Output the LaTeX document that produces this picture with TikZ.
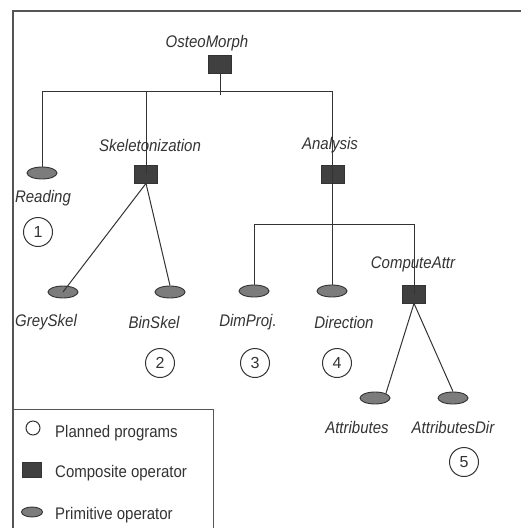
\documentclass[tikz,border=0pt]{standalone}
\usepackage{fontspec}
\setmainfont{Liberation Sans}
\usetikzlibrary{shapes.geometric}

\definecolor{boxgray}{HTML}{404040}
\definecolor{ellgray}{HTML}{7C7C7C}
\definecolor{inkgray}{HTML}{333333}
\definecolor{framegray}{HTML}{555555}

\tikzset{
  composite/.style={rectangle, draw=inkgray, fill=boxgray, line width=0.8pt,
    minimum width=23pt, minimum height=18pt, inner sep=0pt},
  primitive/.style={ellipse, draw=inkgray, fill=ellgray, line width=0.9pt,
    minimum width=30pt, minimum height=12pt, inner sep=0pt},
  opname/.style={font=\fontsize{15}{18}\selectfont\itshape, text=inkgray, inner sep=0pt,
    yscale=1.12, transform shape},
  planned/.style={circle, draw=inkgray, line width=1pt, minimum size=29pt, inner sep=0pt,
    font=\fontsize{16}{18}\selectfont, text=inkgray},
  legendtext/.style={font=\fontsize{15}{18}\selectfont, text=inkgray, anchor=west, inner sep=0pt,
    yscale=1.12, transform shape},
  link/.style={draw=inkgray, line width=1pt},
  frame/.style={draw=framegray, line width=1.5pt}
}

\begin{document}
\begin{tikzpicture}[x=1pt, y=-1pt]
  \useasboundingbox (0,0) rectangle (521,528);

  % outer frame and legend box
  \draw[frame] (13,528) -- (13,11) -- (521,11);
  \draw[frame, line width=1pt] (13,528) |- (213,409) -- (213,528);

  % operators
  \node[composite] (osteo)    at (220,64)  {};
  \node[composite] (skel)     at (146,174) {};
  \node[composite] (analysis) at (333,174) {};
  \node[composite] (compattr) at (414,294) {};

  \node[primitive] (reading)  at (42,173)  {};
  \node[primitive] (greyskel) at (63,292)  {};
  \node[primitive] (binskel)  at (170,292) {};
  \node[primitive] (dimproj)  at (254,291) {};
  \node[primitive] (direction) at (332,291) {};
  \node[primitive] (attributes) at (375,398) {};
  \node[primitive] (attrdir)  at (453,398) {};

  % names
  \node[opname] (osteolbl)    at (207,43)  {OsteoMorph};
  \node[opname] (skellbl)     at (150,145) {Skeletonization};
  \node[opname] (analysislbl) at (330,145) {Analysis};
  \node[opname] (compattrlbl) at (413,264) {ComputeAttr};
  \node[opname] (readinglbl)  at (43,198)  {Reading};
  \node[opname] (greyskellbl) at (46,322)  {GreySkel};
  \node[opname] (binskellbl)  at (154,322) {BinSkel};
  \node[opname] (dimprojlbl)  at (248,322) {DimProj.};
  \node[opname] (directionlbl) at (344,322) {Direction};
  \node[opname] (attributeslbl) at (357,427) {Attributes};
  \node[opname] (attrdirlbl)  at (453,427) {AttributesDir};

  % planned programs
  \node[planned] (plan1) at (38,232)  {1};
  \node[planned] (plan2) at (160,363) {2};
  \node[planned] (plan3) at (255,363) {3};
  \node[planned] (plan4) at (337,363) {4};
  \node[planned] (plan5) at (464,462) {5};

  % tree
  \coordinate (bus1) at (332,91);
  \coordinate (stem1) at (220,95);
  \coordinate (bus2) at (414,224);
  \draw[link] (osteo.south) -- (stem1);
  \draw[link] (reading.north) |- (bus1) -- (direction.north);
  \draw[link] (skel.center) -- (skel |- bus1);
  \draw[link] (skel.south) -- (greyskel.center);
  \draw[link] (skel.south) -- (binskel.north);
  \draw[link] (dimproj.north) |- (bus2) -- (compattr.center);
  \draw[link] (compattr.south) -- (attributes.north east);
  \draw[link] (compattr.south) -- (attrdir.north);

  % legend
  \node[circle, draw=inkgray, line width=1pt, minimum size=14pt, inner sep=0pt] (keyplan) at (33,428) {};
  \node[composite, minimum width=19pt, minimum height=15pt] (keycomp) at (32,470) {};
  \node[primitive, minimum width=21pt, minimum height=10pt] (keyprim) at (32,512) {};
  \node[legendtext] (keyplanlbl) at (55,433) {Planned programs};
  \node[legendtext] (keycomplbl) at (55,473) {Composite operator};
  \node[legendtext] (keyprimlbl) at (55,515) {Primitive operator};
\end{tikzpicture}
\end{document}
